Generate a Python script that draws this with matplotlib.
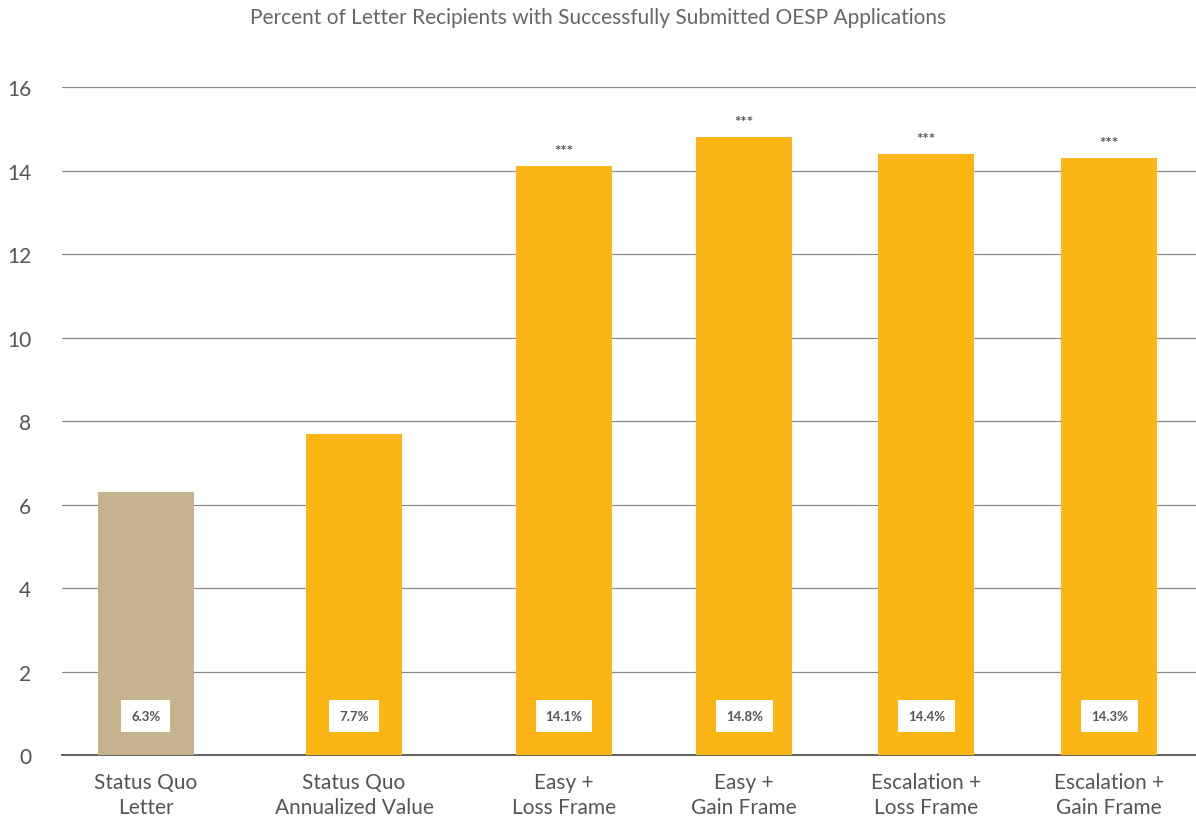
import matplotlib
matplotlib.use("Agg")
import matplotlib.pyplot as plt

categories = ["Status Quo\nLetter", "Status Quo\nAnnualized Value", "Easy +\nLoss Frame",
              "Easy +\nGain Frame", "Escalation +\nLoss Frame", "Escalation +\nGain Frame"]
values = [6.3, 7.7, 14.1, 14.8, 14.4, 14.3]
value_labels = ["6.3%", "7.7%", "14.1%", "14.8%", "14.4%", "14.3%"]
significance = ["", "", "***", "***", "***", "***"]
bar_colors = ["#C4B38C", "#FBB615", "#FBB615", "#FBB615", "#FBB615", "#FBB615"]
y_ticks = [0, 2, 4, 6, 8, 10, 12, 14, 16]

plt.rcParams["font.family"] = ["Lato", "DejaVu Sans"]

fig = plt.figure(figsize=(11.96, 8.2), dpi=100)
ax = fig.add_axes([0.0518, 0.078, 0.9482, 0.8146])

# slot positions of the bars along the axis
x = [0.0, 1.08, 2.17, 3.105, 4.05, 5.0]
ax.bar(x, values, width=0.5, color=bar_colors, zorder=2)

ax.set_ylim(0, 16)
ax.set_xlim(-0.436, 5.45)
ax.set_yticks(y_ticks)
ax.set_yticklabels([str(t) for t in y_ticks])
ax.yaxis.grid(True, color="#8a8a8a", linewidth=0.9, zorder=0)
ax.set_axisbelow(True)
for s in ["top", "right", "left"]:
    ax.spines[s].set_visible(False)
ax.spines["bottom"].set_color("#555555")
ax.spines["bottom"].set_linewidth(1.3)
ax.spines["bottom"].set_zorder(1)

ax.tick_params(axis="y", length=0, pad=22, labelsize=15, labelcolor="#555555")
ax.tick_params(axis="x", length=0, pad=12, labelsize=15, labelcolor="#555555")
ax.set_xticks(x)
ax.set_xticklabels(categories, linespacing=1.35)

for xi, v, lab, sig in zip(x, values, value_labels, significance):
    ax.text(xi, 0.93, lab, ha="center", va="center", fontsize=9.5, fontweight="bold",
            color="#555555", zorder=3,
            bbox=dict(boxstyle="square,pad=0.75", facecolor="white", edgecolor="none"))
    if sig:
        ax.text(xi, v + 0.2, sig, ha="center", va="bottom", fontsize=11,
                fontweight="bold", color="#555555", zorder=3)

fig.text(0.5, 0.978, "Percent of Letter Recipients with Successfully Submitted OESP Applications",
         ha="center", va="center", fontsize=15, color="#666666")

fig.savefig("out.png", dpi=100)
